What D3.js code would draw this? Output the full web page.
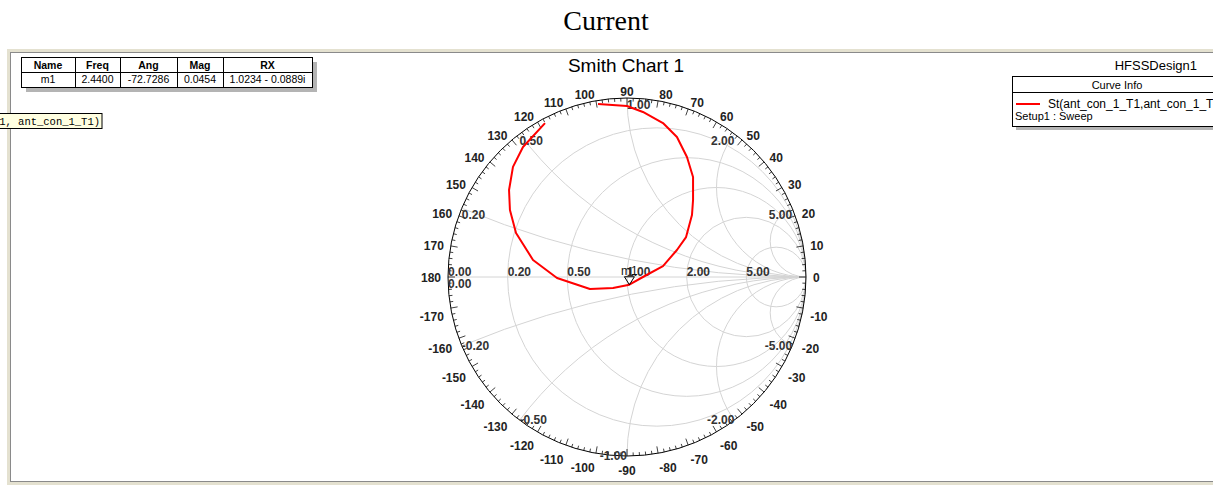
<!DOCTYPE html>
<html>
<head>
<meta charset="utf-8">
<script src="https://cdn.jsdelivr.net/npm/d3@7"></script>
<style>
  body { margin: 0; background: #fff; }
  svg { display: block; }
</style>
</head>
<body>
<div id="chart"></div>
<script>
// ---- data ----
const resistanceVals = [0.2, 0.5, 1, 2, 5];
const reactanceVals = [0.2, 0.5, 1, 2, 5, -0.2, -0.5, -1, -2, -5];
const angleLabels = d3.range(-170, 181, 10);

// S11 trace, reflection coefficient (real / imaginary)
const gammaRe = [-0.162, 0.000, 0.089, 0.201, 0.279, 0.335, 0.369, 0.369, 0.363, 0.330, 0.279, 0.201,
  0.089, 0.013, -0.078, -0.207, -0.391, -0.525, -0.620, -0.654, -0.659, -0.637, -0.581, -0.458];
const gammaIm = [0.966, 0.955, 0.922, 0.860, 0.782, 0.670, 0.559, 0.430, 0.346, 0.223, 0.151, 0.061,
  0.000, -0.043, -0.061, -0.067, -0.006, 0.095, 0.246, 0.374, 0.486, 0.615, 0.726, 0.860];

const tableHeaders = ["Name", "Freq", "Ang", "Mag", "RX"];
const tableRow = ["m1", "2.4400", "-72.7286", "0.0454", "1.0234 - 0.0889i"];
const markerMag = 0.0454;
const markerAng = -72.7286;
const traceName = "St(ant_con_1_T1,ant_con_1_T1)";

(function () {
  const W = 1213, H = 486;
  const cx = 627, cy = 277, R = 179;
  const font = "'Liberation Sans', Arial, sans-serif";

  const svg = d3.select("#chart").append("svg")
    .attr("width", W).attr("height", H)
    .style("font-family", font);

  // page title
  svg.append("text")
    .attr("x", 606).attr("y", 30)
    .attr("text-anchor", "middle")
    .style("font-family", "'Liberation Serif', 'Times New Roman', serif")
    .attr("font-size", "28px")
    .attr("fill", "#000")
    .text("Current");

  // plot frame
  svg.append("rect")
    .attr("x", 8.5).attr("y", 50.5).attr("width", W + 20).attr("height", 433)
    .attr("fill", "none").attr("stroke", "#e4e1d0").attr("stroke-width", 3);
  svg.append("rect")
    .attr("x", 10.5).attr("y", 52.5).attr("width", W + 20).attr("height", 429)
    .attr("fill", "#fff").attr("stroke", "#8a8a8a").attr("stroke-width", 1);

  // scales for the reflection-coefficient plane
  const x = d3.scaleLinear().domain([-1, 1]).range([cx - R, cx + R]);
  const y = d3.scaleLinear().domain([-1, 1]).range([cy + R, cy - R]);
  const k = R; // pixels per unit

  svg.append("clipPath").attr("id", "unit")
    .append("circle").attr("cx", x(0)).attr("cy", y(0)).attr("r", k);

  const grid = svg.append("g").attr("clip-path", "url(#unit)")
    .attr("fill", "none").attr("stroke", "#d4d4d4").attr("stroke-width", 1);

  // horizontal axis
  grid.append("line")
    .attr("x1", x(-1)).attr("x2", x(1)).attr("y1", y(0)).attr("y2", y(0));

  // constant resistance circles
  grid.selectAll(".rc").data(resistanceVals).enter().append("circle")
    .attr("cx", d => x(d / (1 + d))).attr("cy", y(0))
    .attr("r", d => k / (1 + d));

  // constant reactance arcs
  grid.selectAll(".xc").data(reactanceVals).enter().append("circle")
    .attr("cx", x(1)).attr("cy", d => y(1 / d))
    .attr("r", d => k / Math.abs(d));

  // outer circle
  svg.append("circle")
    .attr("cx", x(0)).attr("cy", y(0)).attr("r", k)
    .attr("fill", "none").attr("stroke", "#000").attr("stroke-width", 1);

  // angle ticks (inward)
  const ticks = svg.append("g").attr("stroke", "#111").attr("stroke-width", 0.8);
  d3.range(-180, 180, 2).forEach(a => {
    const len = a % 10 === 0 ? 7 : 3.5;
    const t = a * Math.PI / 180;
    ticks.append("line")
      .attr("x1", x(Math.cos(t))).attr("y1", y(Math.sin(t)))
      .attr("x2", x(Math.cos(t) * (1 - len / k))).attr("y2", y(Math.sin(t) * (1 - len / k)));
  });

  // angle labels outside the circle
  const angG = svg.append("g");
  const lr = 1 + 7 / k;
  angleLabels.forEach(a => {
    const t = a * Math.PI / 180;
    const c = Math.cos(t), s = Math.sin(t);
    angG.append("text")
      .attr("x", x(c * lr))
      .attr("y", y(s * lr) + (s < -0.01 ? 8 : 1))
      .attr("text-anchor", c > 0.01 ? "start" : (c < -0.01 ? "end" : "middle"))
      .attr("dominant-baseline", "central")
      .attr("font-size", "12px").attr("font-weight", "bold")
      .attr("fill", "#222")
      .text(a);
  });

  const lblStyle = sel => sel
    .attr("font-size", "12px").attr("font-weight", "bold").attr("fill", "#333");

  // resistance labels along the axis
  svg.append("text").attr("x", x(-1)).attr("y", y(0) - 1).call(lblStyle).text("0.00");
  svg.append("text").attr("x", x(-1)).attr("y", y(0) + 11).call(lblStyle).text("0.00");
  resistanceVals.forEach(r => {
    svg.append("text")
      .attr("x", x((r - 1) / (r + 1))).attr("y", y(0) - 1)
      .call(lblStyle).text(r.toFixed(2));
  });

  // reactance labels at the rim
  reactanceVals.forEach(v => {
    const t = Math.PI - 2 * Math.atan(Math.abs(v));
    const gx = Math.cos(t), gy = Math.sign(v) * Math.sin(t);
    const pos = v > 0;
    const anchor = pos ? (v > 1 ? "end" : "start") : (Math.abs(v) >= 1 ? "end" : "start");
    svg.append("text")
      .attr("x", x(gx)).attr("y", y(gy) + (pos ? 11 : 4))
      .attr("text-anchor", anchor)
      .call(lblStyle).text(v.toFixed(2));
  });

  // trace
  const pts = gammaRe.map((re, i) => [re, gammaIm[i]]);
  svg.append("path").datum(pts)
    .attr("fill", "none").attr("stroke", "#ff0000").attr("stroke-width", 2)
    .attr("stroke-linejoin", "round")
    .attr("d", d3.line().x(d => x(d[0])).y(d => y(d[1])));

  // marker m1
  const mt = markerAng * Math.PI / 180;
  const mx = x(markerMag * Math.cos(mt)), my = y(markerMag * Math.sin(mt));
  svg.append("path")
    .attr("d", `M${mx - 5},${my - 8}L${mx + 5},${my - 8}L${mx},${my}Z`)
    .attr("fill", "none").attr("stroke", "#000").attr("stroke-width", 1);
  svg.append("text").attr("x", mx).attr("y", my - 10)
    .attr("text-anchor", "middle")
    .attr("font-size", "12px").attr("fill", "#111")
    .text("m1");

  // chart title & design name
  svg.append("text").attr("x", 626).attr("y", 72)
    .attr("text-anchor", "middle").attr("font-size", "19px").attr("fill", "#000")
    .text("Smith Chart 1");
  svg.append("text").attr("x", 1197).attr("y", 70)
    .attr("text-anchor", "end").attr("font-size", "13px")
    .attr("fill", "#000").text("HFSSDesign1");

  // marker table
  const colX = [21, 75, 120, 177, 223, 312];
  const tY = 57, rowH = 15;
  svg.append("rect").attr("x", colX[0] + 5).attr("y", tY + 5)
    .attr("width", colX[5] - colX[0]).attr("height", rowH * 2).attr("fill", "#b4b4b4");
  svg.append("rect").attr("x", colX[0] + 0.5).attr("y", tY + 0.5)
    .attr("width", colX[5] - colX[0]).attr("height", rowH * 2)
    .attr("fill", "#fff").attr("stroke", "#000");
  svg.append("line").attr("x1", colX[0]).attr("x2", colX[5])
    .attr("y1", tY + rowH + 0.5).attr("y2", tY + rowH + 0.5).attr("stroke", "#000");
  colX.slice(1, 5).forEach(cx0 => {
    svg.append("line").attr("x1", cx0 + 0.5).attr("x2", cx0 + 0.5)
      .attr("y1", tY).attr("y2", tY + rowH * 2).attr("stroke", "#000");
  });
  tableHeaders.forEach((h, i) => {
    svg.append("text").attr("x", (colX[i] + colX[i + 1]) / 2).attr("y", tY + 12)
      .attr("text-anchor", "middle").attr("font-size", "10.5px").attr("font-weight", "bold")
      .text(h);
  });
  tableRow.forEach((v, i) => {
    svg.append("text").attr("x", (colX[i] + colX[i + 1]) / 2).attr("y", tY + rowH + 11)
      .attr("text-anchor", "middle").attr("font-size", "10.5px")
      .text(v);
  });

  // hover tooltip remnant
  svg.append("rect").attr("x", -1).attr("y", 113.5).attr("width", 103).attr("height", 15)
    .attr("fill", "#ffffe1").attr("stroke", "#000");
  svg.append("text").attr("x", 100).attr("y", 125)
    .attr("text-anchor", "end")
    .style("font-family", "'Liberation Mono', 'DejaVu Sans Mono', monospace")
    .attr("font-size", "10.5px").attr("fill", "#000")
    .text("St(ant_con_1_T1, ant_con_1_T1)");

  // curve info legend
  const lx = 1012, ly = 76;
  svg.append("rect").attr("x", lx + 4).attr("y", ly + 4).attr("width", 210).attr("height", 50)
    .attr("fill", "#b4b4b4");
  svg.append("rect").attr("x", lx + 0.5).attr("y", ly + 0.5).attr("width", 210).attr("height", 50)
    .attr("fill", "#fff").attr("stroke", "#000");
  svg.append("line").attr("x1", lx).attr("x2", lx + 210)
    .attr("y1", ly + 16.5).attr("y2", ly + 16.5).attr("stroke", "#000");
  svg.append("text").attr("x", lx + 105).attr("y", ly + 13)
    .attr("text-anchor", "middle").attr("font-size", "11px").text("Curve Info");
  svg.append("line").attr("x1", lx + 4).attr("x2", lx + 28)
    .attr("y1", ly + 28).attr("y2", ly + 28).attr("stroke", "#ff0000").attr("stroke-width", 2);
  svg.append("text").attr("x", lx + 36).attr("y", ly + 32)
    .attr("font-size", "12px").text(traceName);
  svg.append("text").attr("x", lx + 3).attr("y", ly + 44)
    .attr("font-size", "11px").text("Setup1 : Sweep");
})();
</script>
</body>
</html>
